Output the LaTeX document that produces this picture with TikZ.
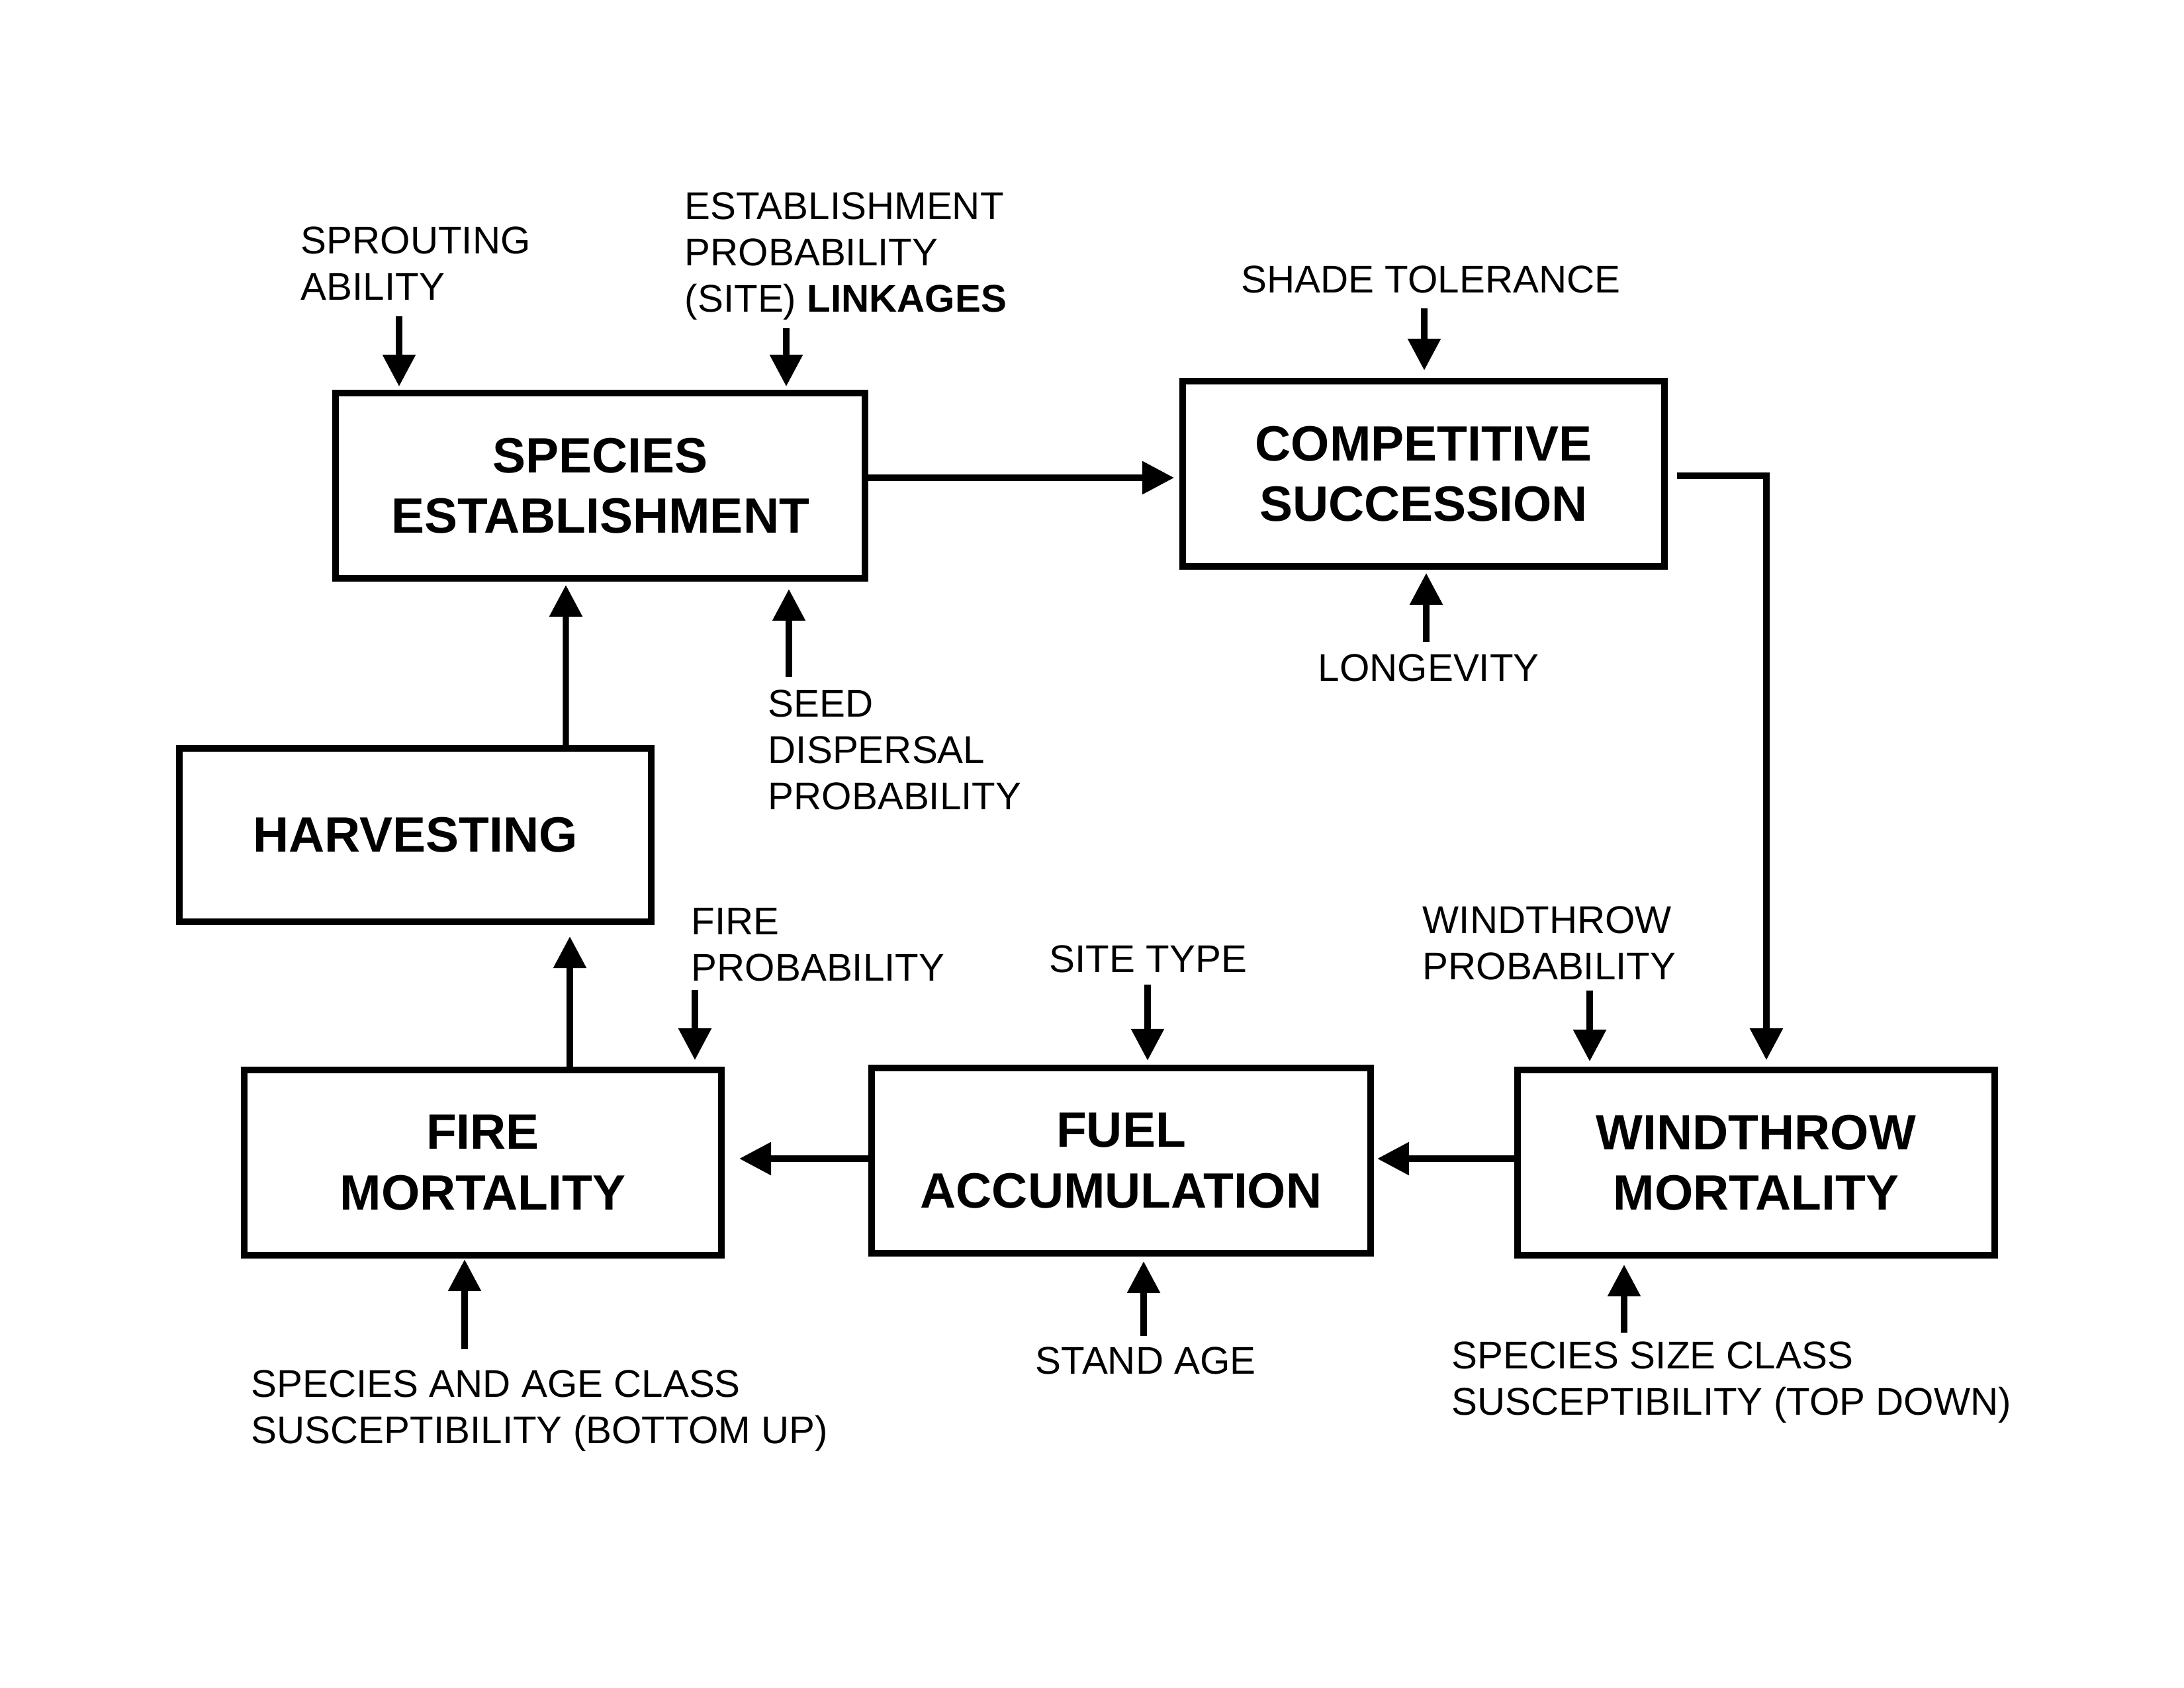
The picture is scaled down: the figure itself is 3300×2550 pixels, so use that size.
\documentclass[tikz,border=0pt]{standalone}
\usepackage{fontspec}
\setmainfont{Liberation Sans}
\usetikzlibrary{arrows.meta,calc}
\newcommand{\mlines}[1]{\begin{tabular}[t]{@{}l@{}}#1\end{tabular}}
\tikzset{
  box/.style={draw, line width=2.2pt, inner sep=0pt, align=center,
    font=\fontsize{18}{22}\selectfont\bfseries},
  arr/.style={line width=2.2pt, -{Triangle[length=11.5pt,width=11.5pt]}},
  lab/.style={anchor=base west, inner sep=0pt, font=\fontsize{14}{16.8}\selectfont},
}
\begin{document}
\begin{tikzpicture}[x=0.24pt,y=-0.24pt]
\useasboundingbox (0,0) rectangle (3300,2550);
\fill[white] (0,0) rectangle (3300,2550);

% boxes
\node[box, minimum width=192pt, minimum height=67.2pt] (SE) at (907,734) {SPECIES\\ESTABLISHMENT};
\node[box, minimum width=174.72pt, minimum height=67.2pt] (CS) at (2151,716) {COMPETITIVE\\SUCCESSION};
\node[box, minimum width=171.12pt, minimum height=62.88pt] (HV) at (627.5,1262) {HARVESTING};
\node[box, minimum width=173.04pt, minimum height=67.2pt] (FM) at (729.5,1757) {FIRE\\MORTALITY};
\node[box, minimum width=180.96pt, minimum height=67.2pt] (FA) at (1694,1754) {FUEL\\ACCUMULATION};
\node[box, minimum width=173.04pt, minimum height=67.2pt] (WM) at (2653.5,1757) {WINDTHROW\\MORTALITY};

% labels
\node[lab] (lSprout) at (454,383) {\mlines{SPROUTING\\ABILITY}};
\node[lab] (lEstab) at (1034,331) {\mlines{ESTABLISHMENT\\PROBABILITY\\(SITE) \textbf{LINKAGES}}};
\node[lab] (lShade) at (1875,442) {SHADE TOLERANCE};
\node[lab] (lLong) at (1991,1029) {LONGEVITY};
\node[lab] (lSeed) at (1160,1083) {\mlines{SEED\\DISPERSAL\\PROBABILITY}};
\node[lab] (lFire) at (1044,1412) {\mlines{FIRE\\PROBABILITY}};
\node[lab] (lSite) at (1585,1469) {SITE TYPE};
\node[lab] (lWind) at (2149,1410) {\mlines{WINDTHROW\\PROBABILITY}};
\node[lab] (lStand) at (1564,2076) {STAND AGE};
\node[lab] (lAge) at (379,2111) {\mlines{SPECIES AND AGE CLASS\\SUSCEPTIBILITY (BOTTOM UP)}};
\node[lab] (lSize) at (2193,2068) {\mlines{SPECIES SIZE CLASS\\SUSCEPTIBILITY (TOP DOWN)}};

% input arrow start points
\coordinate (c1) at (603,478);
\coordinate (c2) at (1188,496);
\coordinate (c3) at (2152,466);
\coordinate (c4) at (2155,970);
\coordinate (c5) at (1192,1023);
\coordinate (c6) at (1050,1496);
\coordinate (c7) at (1734,1488);
\coordinate (c8) at (1728,2019);
\coordinate (c9) at (2402,1497);
\coordinate (c10) at (2454,2014);
\coordinate (c11) at (702,2039);

\draw[arr, shorten >=1.3pt] (c1) -- (c1 |- SE.north);
\draw[arr, shorten >=1.3pt] (c2) -- (c2 |- SE.north);
\draw[arr, shorten >=2.8pt] (c3) -- (c3 |- CS.north);
\draw[arr, shorten >=1.3pt] (c4) -- (c4 |- CS.south);
\draw[arr, shorten >=2.8pt] (c5) -- (c5 |- SE.south);
\draw[arr, shorten >=2.5pt] (c6) -- (c6 |- FM.north);
\draw[arr, shorten >=1.6pt] (c7) -- (c7 |- FA.north);
\draw[arr, shorten >=1.8pt] (c8) -- (c8 |- FA.south);
\draw[arr, shorten >=2pt] (c9) -- (c9 |- WM.north);
\draw[arr, shorten >=2.3pt] (c10) -- (c10 |- WM.south);
\draw[arr, shorten >=0.4pt] (c11) -- (c11 |- FM.south);

% box to box
\draw[arr, shorten >=2pt] ($(SE.east)+(0,-12)$) -- ($(CS.west)+(0,6)$);
\draw[arr, shorten <=3.5pt, shorten >=2.5pt] ($(CS.east)+(0,3)$) -| ($(WM.north)+(15.5,0)$);
\draw[arr, shorten >=1.3pt] ($(HV.north)+(227.5,0)$) -- ($(SE.south)+(-52,0)$);
\draw[arr, shorten >=4.2pt] ($(FM.north)+(131.5,0)$) -- ($(HV.south)+(233.5,0)$);
\draw[arr, shorten >=5.4pt] ($(FA.west)+(0,-3)$) -- ($(FM.east)+(0,-6)$);
\draw[arr, shorten >=1.3pt] ($(WM.west)+(0,-6)$) -- ($(FA.east)+(0,-3)$);
\end{tikzpicture}
\end{document}
